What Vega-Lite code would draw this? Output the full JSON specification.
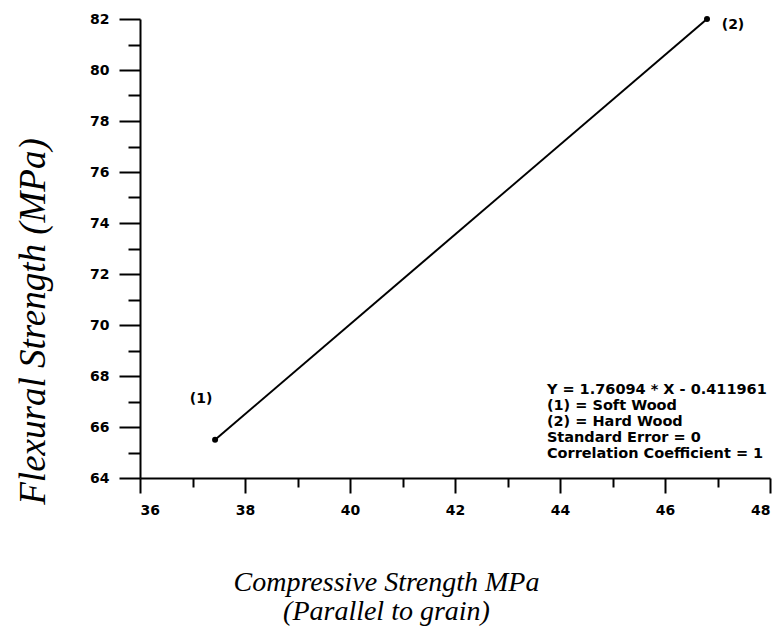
{
  "$schema": "https://vega.github.io/schema/vega-lite/v6.json",
  "autosize": {"type": "none"},
  "padding": {"left": 140, "top": 19, "right": 9, "bottom": 154},
  "width": 630,
  "height": 459,
  "background": "white",
  "config": {
    "view": {"stroke": null},
    "axis": {
      "domainColor": "black", "domainWidth": 2, "tickColor": "black", "tickWidth": 2,
      "labelFont": "DejaVu Sans", "labelFontWeight": "bold", "labelFontSize": 14, "labelColor": "black",
      "grid": false, "titleColor": "black", "titleFont": "Liberation Serif", "titleFontStyle": "italic",
      "titleFontWeight": "normal", "titleFontSize": 28
    }
  },
  "datasets": {
    "pts": [
      {"cs": 37.43, "fs": 65.5, "label": "(1)"},
      {"cs": 46.8, "fs": 82.0, "label": "(2)"}
    ],
    "note": [
      {"cs": 43.75, "fs": 67.72, "text": "Y = 1.76094 * X - 0.411961\n(1) = Soft Wood\n(2) = Hard Wood\nStandard Error = 0\nCorrelation Coefficient = 1"}
    ]
  },
  "layer": [
    {
      "data": {"name": "pts"},
      "mark": {"type": "line", "color": "black", "strokeWidth": 2},
      "encoding": {
        "x": {"field": "cs", "type": "quantitative", "scale": {"domain": [36, 48], "nice": false, "zero": false},
          "axis": {"orient": "bottom", "values": [36, 38, 40, 42, 44, 46, 48], "tickSize": 15, "labelPadding": 10, "format": "d",
            "title": ["Compressive Strength MPa", "(Parallel to grain)"], "titleX": 246, "titleY": 112, "titleAlign": "center", "titleBaseline": "alphabetic", "titleLineHeight": 29}},
        "y": {"field": "fs", "type": "quantitative", "scale": {"domain": [64, 82], "nice": false, "zero": false},
          "axis": {"orient": "left", "values": [64, 66, 68, 70, 72, 74, 76, 78, 80, 82], "tickSize": 21, "labelPadding": 10, "format": "d",
            "title": "Flexural Strength (MPa)", "titleX": -96, "titleY": 302, "titleAngle": -90, "titleAlign": "center", "titleBaseline": "alphabetic", "titleFontSize": 37}}
      }
    },
    {
      "data": {"name": "pts"},
      "mark": {"type": "circle", "color": "black", "opacity": 1, "size": 36},
      "encoding": {
        "x": {"field": "cs", "type": "quantitative", "axis": null},
        "y": {"field": "fs", "type": "quantitative", "axis": null}
      }
    },
    {
      "data": {"name": "pts"},
      "mark": {"type": "text", "font": "DejaVu Sans", "fontWeight": "bold", "fontSize": 14, "color": "black",
        "dx": {"expr": "datum.label === '(1)' ? -14 : 26"}, "dy": {"expr": "datum.label === '(1)' ? -41 : 6"}},
      "encoding": {
        "x": {"field": "cs", "type": "quantitative", "axis": null},
        "y": {"field": "fs", "type": "quantitative", "axis": null},
        "text": {"field": "label"}
      }
    },
    {
      "data": {"name": "note"},
      "mark": {"type": "text", "font": "DejaVu Sans", "fontWeight": "bold", "fontSize": 14.5, "color": "black",
        "align": "left", "baseline": "top", "lineBreak": "\n", "lineHeight": 16},
      "encoding": {
        "x": {"field": "cs", "type": "quantitative", "axis": null},
        "y": {"field": "fs", "type": "quantitative", "axis": null},
        "text": {"field": "text"}
      }
    },
    {
      "data": {"name": "pts"},
      "mark": {"type": "point", "opacity": 0},
      "encoding": {
        "x": {"field": "cs", "type": "quantitative",
          "axis": {"orient": "bottom", "values": [37, 39, 41, 43, 45, 47], "tickSize": 9, "labels": false, "domain": false, "title": null}},
        "y": {"field": "fs", "type": "quantitative",
          "axis": {"orient": "left", "values": [65, 67, 69, 71, 73, 75, 77, 79, 81], "tickSize": 12, "labels": false, "domain": false, "title": null}}
      }
    }
  ],
  "resolve": {"axis": {"x": "independent", "y": "independent"}}
}
